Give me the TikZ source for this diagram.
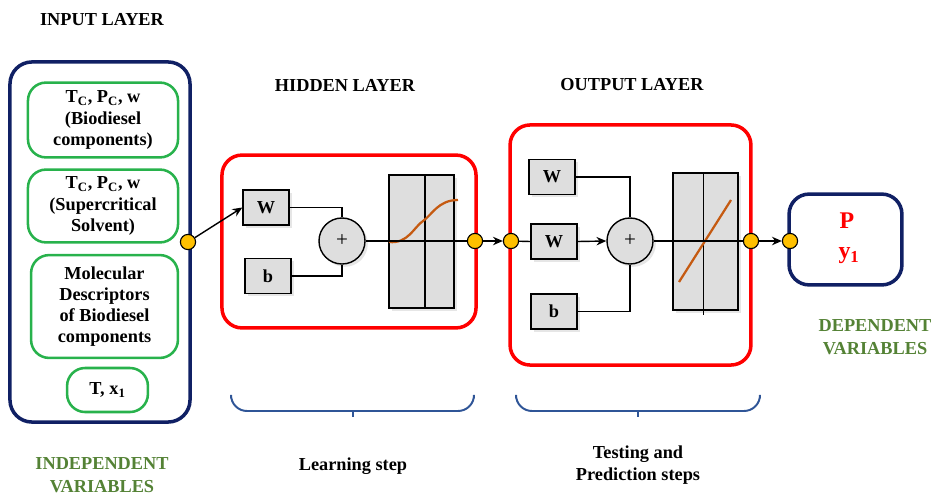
\documentclass[tikz,border=0pt]{standalone}
\usepackage{fontspec}
\setmainfont{Liberation Serif}
\usepackage{tikz}
\usetikzlibrary{arrows.meta, positioning, shadows}
\definecolor{navyblue}{RGB}{16,32,100}
\definecolor{vargreen}{RGB}{40,178,76}
\definecolor{labelgreen}{RGB}{84,130,53}
\definecolor{dotyellow}{RGB}{255,192,0}
\definecolor{cellgray}{RGB}{222,222,222}
\definecolor{curveorange}{RGB}{197,90,17}
\definecolor{braceblue}{RGB}{47,85,151}

\begin{document}
\begin{tikzpicture}[x=0.025cm,y=-0.025cm,
    txt/.style={font=\fontsize{13}{16}\selectfont\bfseries,align=center},
    varbox/.style={draw=vargreen,line width=1.8pt,rounded corners=0.45cm,inner sep=0pt,
          txt,font=\fontsize{13}{15}\selectfont\bfseries},
    layerbox/.style={draw=red,line width=2.5pt,rounded corners=0.5cm,inner sep=0pt},
    weight/.style={draw,fill=cellgray,line width=1pt,minimum width=1.15cm,minimum height=0.87cm,
          font=\fontsize{13}{15}\selectfont\bfseries,
          drop shadow={opacity=0.2,shadow xshift=0.07cm,shadow yshift=-0.07cm}},
    summer/.style={circle,draw,fill=cellgray,line width=1pt,minimum size=1.15cm,inner sep=0pt,
          font=\fontsize{15}{16}\selectfont,
          drop shadow={opacity=0.2,shadow xshift=0.07cm,shadow yshift=-0.07cm}},
    transfer/.style={draw,fill=cellgray,line width=1pt,minimum width=1.62cm,inner sep=0pt,
          drop shadow={opacity=0.2,shadow xshift=0.07cm,shadow yshift=-0.07cm}},
    dot/.style={circle,draw,fill=dotyellow,line width=0.8pt,minimum size=0.38cm,inner sep=0pt},
    wire/.style={line width=1pt},
    flow/.style={line width=1pt,-{Stealth[length=7pt,width=6pt]}},
    brace/.style={draw=braceblue,line width=1.4pt,rounded corners=0.4cm}]
  \useasboundingbox (0,0) rectangle (932,494);

  % input layer
  \node[txt] (inlabel) at (102,20) {INPUT LAYER};
  \node[draw=navyblue,line width=2.5pt,rounded corners=0.55cm,minimum width=4.5cm,
        minimum height=9cm] (inbox) at (100,242) {};
  \node[varbox,minimum width=3.75cm,minimum height=1.87cm] (crit1) at (103,120)
        {T\textsubscript{C}, P\textsubscript{C}, w\\(Biodiesel\\components)};
  \node[varbox,minimum width=3.75cm,minimum height=1.82cm] (crit2) at (103,206)
        {T\textsubscript{C}, P\textsubscript{C}, w\\(Supercritical\\Solvent)};
  \node[varbox,minimum width=3.67cm,minimum height=2.57cm] (descr) at (104.5,306.5)
        {Molecular\\Descriptors\\of Biodiesel\\components};
  \node[varbox,minimum width=2.02cm,minimum height=1.1cm] (tx) at (107.5,390)
        {T, x\textsubscript{1}};
  \node[txt,text=labelgreen] (indep) at (102,475) {INDEPENDENT\\VARIABLES};

  % hidden layer
  \node[txt] (hidlabel) at (345,85) {HIDDEN LAYER};
  \node[layerbox,minimum width=6.35cm,minimum height=4.32cm] (hidbox) at (349,241.5) {};
  \node[weight] (hw) at (266,207.5) {W};
  \node[weight] (hb) at (268,276) {b};
  \node[summer] (hsum) at (342,241) {+};
  \node[transfer,minimum height=3.32cm] (hact) at (421.5,241.5) {};
  \draw[wire] ([xshift=2.5]hact.north) -- ([xshift=2.5]hact.south);
  \draw[curveorange,line width=1.6pt] (389,242) .. controls (408,244) and (414,227) .. (423,221)
        .. controls (432,215) and (438,200) .. (458,200);

  % output layer
  \node[txt] (outlabel) at (632,85) {OUTPUT LAYER};
  \node[layerbox,minimum width=6.02cm,minimum height=6cm] (outbox) at (630.5,245) {};
  \node[weight] (ow1) at (552,177) {W};
  \node[weight] (ow2) at (554,241.5) {W};
  \node[weight] (ob) at (554,311.5) {b};
  \node[summer] (osum) at (630,241) {+};
  \node[transfer,minimum height=3.42cm] (oact) at (705.5,241.5) {};
  \draw[wire] ([xshift=-1.5]oact.north) -- ([xshift=-1.5,yshift=-3]oact.south);
  \draw[curveorange,line width=1.6pt] (679,282) -- (731,200);

  % result
  \node[draw=navyblue,line width=2.5pt,rounded corners=0.5cm,minimum width=2.82cm,
        minimum height=2.27cm] (resbox) at (845.5,239.5) {};
  \node[txt,text=red,font=\fontsize{17}{18}\selectfont\bfseries] (pres) at (847,221) {P};
  \node[txt,text=red,font=\fontsize{17}{18}\selectfont\bfseries] (yfrac) at (849,256) {y\textsubscript{1}};
  \node[txt,text=labelgreen] (dep) at (875,337) {DEPENDENT\\VARIABLES};

  % junction dots
  \node[dot] (d1) at (188,242) {};
  \node[dot] (d2) at (475,241) {};
  \node[dot] (d3) at (511,241) {};
  \node[dot] (d4) at (751,241) {};
  \node[dot] (d5) at (790,241) {};

  % connections
  \draw[flow] (d1) -- (hw.west);
  \draw[wire] (hw.east) -| (hsum.north);
  \draw[wire] (hb.east) -| (hsum.south);
  \draw[wire] (hsum.east) -- (d2);
  \draw[flow] (d2) -- (d3);
  \draw[wire] (d3) -- (ow2.west);
  \draw[flow] (ow2.east) -- (osum.west);
  \draw[wire] (ow1.east) -| (osum.north);
  \draw[wire] (ob.east) -| (osum.south);
  \draw[wire] (osum.east) -- (d4);
  \draw[flow] (d4) -- (d5);

  % steps
  \draw[brace] (231,398) |- (353,411) -| (474,398);
  \draw[braceblue,line width=1.4pt] (353,411) -- (353,417);
  \draw[brace] (516,398) |- (638,411) -| (760,398);
  \draw[braceblue,line width=1.4pt] (638,411) -- (638,417);
  \node[txt] (learn) at (353,466) {Learning step};
  \node[txt] (test) at (638,465) {Testing and\\Prediction steps};
\end{tikzpicture}
\end{document}
